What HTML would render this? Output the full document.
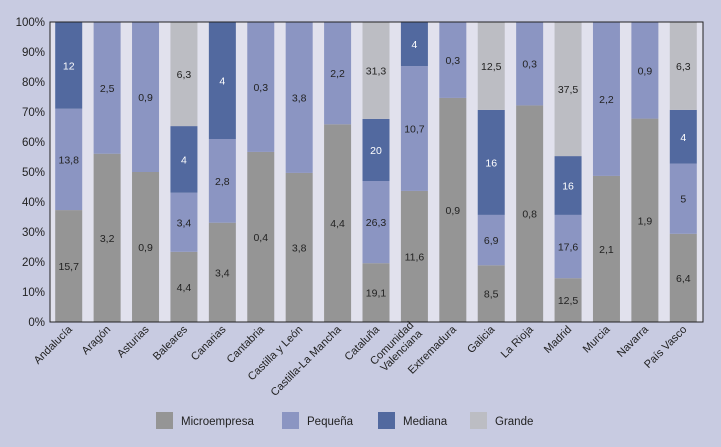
<!DOCTYPE html>
<html><head><meta charset="utf-8"><style>
html,body{margin:0;padding:0;background:#c8cbe1;}
svg{display:block;font-family:"Liberation Sans",sans-serif;}
</style></head><body>
<svg id="chart" width="721" height="447" viewBox="0 0 721 447">
<rect x="0" y="0" width="721" height="447" fill="#c8cbe1"/>
<rect x="50" y="22" width="653" height="300" fill="#e1e1ed"/>
<g id="grid"></g><g id="bars"></g><g id="axes"></g><g id="legend"></g>
</svg>
<script>
const categories = ["Andalucía","Aragón","Asturias","Baleares","Canarias","Cantabria","Castilla y León","Castilla-La Mancha","Cataluña","Comunidad|Valenciana","Extremadura","Galicia","La Rioja","Madrid","Murcia","Navarra","País Vasco"];
const microPct   = [37.3,56.1,50,23.4,33.1,56.7,49.7,65.9,19.6,43.7,74.7,18.9,72.2,14.6,48.7,67.8,29.4];
const pequenaPct = [33.8,43.9,50,19.7,27.9,43.3,50.3,34.1,27.4,41.6,25.3,16.8,27.8,21.1,51.3,32.2,23.4];
const medianaPct = [28.9,0,0,22.2,39,0,0,0,20.7,14.7,0,35,0,19.6,0,0,17.9];
const grandePct  = [0,0,0,34.7,0,0,0,0,32.3,0,0,29.3,0,44.7,0,0,29.3];
const microLbl   = ["15,7","3,2","0,9","4,4","3,4","0,4","3,8","4,4","19,1","11,6","0,9","8,5","0,8","12,5","2,1","1,9","6,4"];
const pequenaLbl = ["13,8","2,5","0,9","3,4","2,8","0,3","3,8","2,2","26,3","10,7","0,3","6,9","0,3","17,6","2,2","0,9","5"];
const medianaLbl = ["12","","","4","4","","","","20","4","","16","","16","","","4"];
const grandeLbl  = ["","","","6,3","","","","","31,3","","","12,5","","37,5","","","6,3"];
const yTicks = [0,10,20,30,40,50,60,70,80,90,100];

const NS="http://www.w3.org/2000/svg";
const X0=50,X1=703,Y0=322,Y1=22;
const step=(X1-X0)/categories.length, bw=27;
const y=v=>Y0-(v/100)*(Y0-Y1);
const xc=i=>X0+step*(i+0.5)-0.5;
function mk(tag,attrs,parent){const e=document.createElementNS(NS,tag);for(const k in attrs)e.setAttribute(k,attrs[k]);parent.appendChild(e);return e;}
const bars=document.getElementById('bars'),axes=document.getElementById('axes'),legend=document.getElementById('legend');
const series=[
 {name:"microempresa",vals:microPct,lbl:microLbl,color:"#959595",tc:"#222"},
 {name:"pequena",vals:pequenaPct,lbl:pequenaLbl,color:"#8b95c2",tc:"#222"},
 {name:"mediana",vals:medianaPct,lbl:medianaLbl,color:"#52699f",tc:"#fff"},
 {name:"grande",vals:grandePct,lbl:grandeLbl,color:"#bcbdc3",tc:"#222"}];
categories.forEach((c,i)=>{
  let acc=0;
  series.forEach(s=>{
    const v=s.vals[i]; if(v<=0) return;
    const top=y(acc+v),bot=y(acc);
    const r=mk('rect',{x:xc(i)-bw/2,y:top,width:bw,height:bot-top,fill:s.color},bars);
    
    
    if(s.lbl[i]){
      const t=mk('text',{x:xc(i),y:(top+bot)/2+4,'text-anchor':'middle','font-size':'10.5',fill:s.tc},bars);
      t.textContent=s.lbl[i];
      
      
    }
    acc+=v;
  });
  const parts=c.split('|');
  const g=mk('g',{transform:`translate(${xc(i)+4},${330}) rotate(-45)`},axes);
  
  
  parts.forEach((p,k)=>{
    const t=mk('text',{x:0,y:(k-(parts.length-1)/2)*12,'text-anchor':'end','font-size':'11',fill:'#222'},g);
    t.textContent=p;
  });
});
yTicks.forEach(v=>{
  const t=mk('text',{x:45,y:y(v)+4,'text-anchor':'end','font-size':'11.5',fill:'#222'},axes);
  t.textContent=v+'%';
  
  
});
const fr=mk('rect',{x:X0,y:Y1,width:X1-X0,height:Y0-Y1,fill:'none',stroke:'#222','stroke-width':1},axes);


const leg=[["Microempresa","#959595",156],["Pequeña","#8b95c2",282],["Mediana","#52699f",378],["Grande","#bcbdc3",470]];
leg.forEach(l=>{
  const g=mk('g',{},legend);
  
  
  mk('rect',{x:l[2],y:412,width:17,height:17,fill:l[1]},g);
  const t=mk('text',{x:l[2]+25,y:425,'font-size':'11.5',fill:'#222'},g);
  t.textContent=l[0];
});
</script>
</body></html>
